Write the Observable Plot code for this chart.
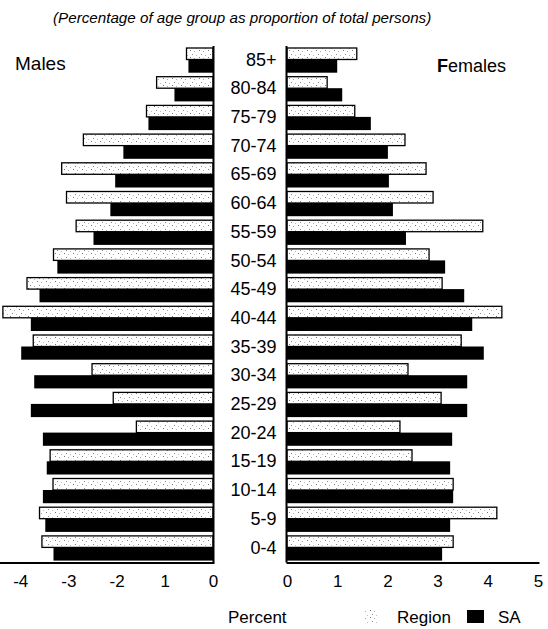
<!DOCTYPE html>
<html>
<head>
<meta charset="utf-8">
<script src="https://cdn.jsdelivr.net/npm/d3@7"></script>
<script src="https://cdn.jsdelivr.net/npm/@observablehq/plot@0.6"></script>
<style>
  body { margin: 0; background: #fff; }
  #wrap { position: relative; width: 548px; height: 629px; font-family: "Liberation Sans", Arial, sans-serif; color: #000; overflow: hidden; }
  .t { position: absolute; line-height: 1; white-space: nowrap; }
  #subtitle { top: 10px; left: 53px; font-size: 15.2px; font-style: italic; }
  #males { top: 54px; left: 15px; font-size: 19px; }
  #females { top: 57px; left: 437px; font-size: 18px; }
  #xlabel { top: 609px; left: 228px; font-size: 17px; }
  #regionLab { top: 609px; left: 397px; font-size: 17px; }
  #saLab { top: 609px; left: 498px; font-size: 17px; }
  #left, #right { position: absolute; top: 0; height: 600px; }
  #left { left: 0; width: 280px; }
  #right { left: 270px; width: 278px; }
  #swatches { position: absolute; left: 0; top: 0; }
  svg { max-width: none !important; }
</style>
</head>
<body>
<svg width="0" height="0" style="position:absolute">
  <defs>
    <pattern id="stipple" width="9" height="7" patternUnits="userSpaceOnUse">
      <rect width="9" height="7" fill="#fff"/>
      <rect x="1" y="1" width="1" height="1" fill="#777"/>
      <rect x="5" y="2" width="1" height="1" fill="#aaa"/>
      <rect x="3" y="5" width="1" height="1" fill="#888"/>
      <rect x="7" y="6" width="1" height="1" fill="#bbb"/>
    </pattern>
  </defs>
</svg>
<div id="wrap">
  <div id="left"></div>
  <div id="right"></div>
  <div class="t" id="subtitle">(Percentage of age group as proportion of total persons)</div>
  <div class="t" id="males">Males</div>
  <div class="t" id="females"><b>F</b>emales</div>
  <div class="t" id="xlabel">Percent</div>
  <svg id="swatches" width="548" height="629" style="pointer-events:none">
    <rect x="364" y="610" width="13" height="14" fill="url(#stipple)"/>
    <rect x="467" y="610" width="17" height="13" fill="#000"/>
  </svg>
  <div class="t" id="regionLab">Region</div>
  <div class="t" id="saLab">SA</div>
</div>
<script>
const ages = ["85+","80-84","75-79","70-74","65-69","60-64","55-59","50-54","45-49","40-44","35-39","30-34","25-29","20-24","15-19","10-14","5-9","0-4"];
const maleRegion   = [0.55,1.17,1.38,2.69,3.14,3.04,2.84,3.31,3.86,4.36,3.73,2.51,2.07,1.59,3.38,3.32,3.60,3.55];
const maleSA       = [0.51,0.80,1.34,1.86,2.03,2.13,2.48,3.23,3.60,3.78,3.98,3.71,3.78,3.53,3.45,3.53,3.48,3.31];
const femaleRegion = [1.39,0.80,1.35,2.35,2.77,2.91,3.90,2.83,3.09,4.28,3.47,2.41,3.07,2.25,2.49,3.31,4.18,3.31];
const femaleSA     = [1.00,1.10,1.67,2.01,2.03,2.11,2.37,3.15,3.53,3.69,3.92,3.59,3.59,3.29,3.25,3.31,3.25,3.09];
const maleTicks = [-4,-3,-2,-1,0];
const maleTickLabels = ["-4","-3","-2","1","0"];
const femaleTicks = [0,1,2,3,4,5];
const femaleTickLabels = ["0","1","2","3","4","5"];

const font = '"Liberation Sans", Arial, sans-serif';
const H = 600, TOP = 46, PITCH = 28.7;
const BOTTOM = H - (TOP + ages.length * PITCH);
const males = ages.map((age, i) => ({age, region: maleRegion[i], sa: maleSA[i]}));
const females = ages.map((age, i) => ({age, region: femaleRegion[i], sa: femaleSA[i]}));
const maleFmt = d => maleTickLabels[maleTicks.indexOf(d)];
const femaleFmt = d => femaleTickLabels[femaleTicks.indexOf(d)];

const left = Plot.plot({
  width: 280, height: H,
  marginLeft: 0, marginRight: 67, marginTop: TOP, marginBottom: BOTTOM,
  style: {fontFamily: font, fontSize: "17px", color: "#000", background: "transparent", overflow: "visible"},
  x: {domain: [-4.42, 0]},
  y: {domain: ages, padding: 0, round: false},
  marks: [
    Plot.barX(males, {x1: 0, x2: d => -d.region, y: "age", fill: "url(#stipple)", stroke: "#000", strokeWidth: 1.3, insetTop: 2, insetBottom: 15.2}),
    Plot.barX(males, {x1: 0, x2: d => -d.sa, y: "age", fill: "#000", insetTop: 13.5, insetBottom: 2}),
    Plot.ruleX([0], {stroke: "#000", strokeWidth: 2}),
    Plot.frame({anchor: "bottom", stroke: "#000", strokeWidth: 2}),
    Plot.axisX({ticks: maleTicks, tickFormat: maleFmt, tickSize: 0, tickPadding: 12, fontSize: 17, label: null, fill: "#000"}),
    Plot.axisY({anchor: "right", tickSize: 0, tickPadding: 63, textAnchor: "end", fontSize: 18, label: null, fill: "#000", dy: -1})
  ]
});
document.getElementById("left").append(left);

const right = Plot.plot({
  width: 278, height: H,
  marginLeft: 17, marginRight: 10, marginTop: TOP, marginBottom: BOTTOM,
  style: {fontFamily: font, fontSize: "17px", color: "#000", background: "transparent", overflow: "visible"},
  x: {domain: [0, 5]},
  y: {domain: ages, padding: 0, round: false, axis: null},
  marks: [
    Plot.barX(females, {x1: 0, x2: "region", y: "age", fill: "url(#stipple)", stroke: "#000", strokeWidth: 1.3, insetTop: 2, insetBottom: 15.2}),
    Plot.barX(females, {x1: 0, x2: "sa", y: "age", fill: "#000", insetTop: 13.5, insetBottom: 2}),
    Plot.ruleX([0], {stroke: "#000", strokeWidth: 2, dx: -1}),
    Plot.frame({anchor: "bottom", stroke: "#000", strokeWidth: 2}),
    Plot.axisX({ticks: femaleTicks, tickFormat: femaleFmt, tickSize: 0, tickPadding: 12, fontSize: 17, label: null, fill: "#000"})
  ]
});
document.getElementById("right").append(right);
</script>
</body>
</html>
